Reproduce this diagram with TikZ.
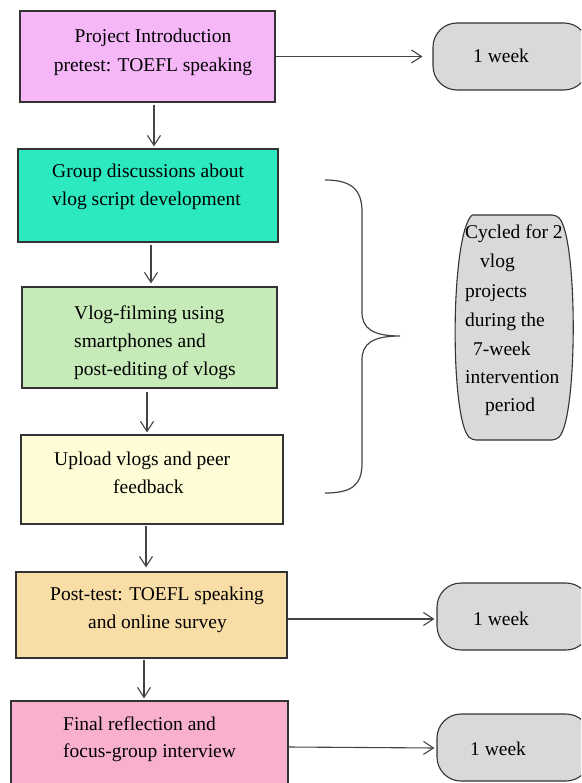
\documentclass[tikz,border=0pt]{standalone}
\usepackage{fontspec}
\setmainfont{Liberation Serif}
\usetikzlibrary{arrows.meta}
\definecolor{bordc}{HTML}{333333}
\definecolor{arrc}{HTML}{444444}
\definecolor{cA}{HTML}{F6B7F9}
\definecolor{cB}{HTML}{2CE9BF}
\definecolor{cC}{HTML}{C6EBB9}
\definecolor{cD}{HTML}{FDFCD6}
\definecolor{cE}{HTML}{F9DDA7}
\definecolor{cF}{HTML}{F9B0CF}
\definecolor{cG}{HTML}{D9D9D9}
\begin{document}
\begin{tikzpicture}[x=1pt,y=-1pt,
  box/.style={draw=bordc, line width=1.2pt, rectangle, inner sep=0pt},
  pill/.style={draw=bordc, line width=1.1pt, rectangle, rounded corners=24pt, fill=cG, inner sep=0pt},
  txt/.style={font=\fontsize{19.5}{29}\selectfont, inner sep=0pt, text=black},
  arr/.style={draw=arrc, line width=1.1pt, -{Straight Barb[length=10pt,width=13pt,line width=1.1pt]}},
  brace/.style={draw=arrc, line width=1.2pt}
]
\useasboundingbox (0,0) rectangle (581,783);
\clip (0,0) rectangle (581,783);
\fill[white] (0,0) rectangle (581,783);

% boxes
\node[box, fill=cA, minimum width=255pt, minimum height=91pt] (B1) at (147.5,56.5) {};
\node[box, fill=cB, minimum width=260pt, minimum height=93pt] (B2) at (148,195.5) {};
\node[box, fill=cC, minimum width=255pt, minimum height=101pt] (B3) at (149.5,337.5) {};
\node[box, fill=cD, minimum width=262pt, minimum height=89pt] (B4) at (152,479.5) {};
\node[box, fill=cE, minimum width=271pt, minimum height=86pt] (B5) at (151.5,615) {};
\node[box, fill=cF, minimum width=277pt, minimum height=89pt] (B6) at (149.5,745.5) {};

% pills
\node[pill, minimum width=155pt, minimum height=67pt] (P1) at (510.5,56.5) {};
\node[pill, minimum width=153pt, minimum height=67pt] (P2) at (513.5,616.5) {};
\node[pill, minimum width=153pt, minimum height=67pt] (P3) at (513.5,747.5) {};

% barrel
\draw[draw=bordc, line width=1.1pt, fill=cG, rounded corners=4pt]
  (472,215) -- (556,215) .. controls (578,236) and (578,419) .. (556,440)
  -- (472,440) .. controls (450,419) and (450,236) .. (472,215);
\coordinate (BR) at (514,327.5);

% texts
\node[txt, anchor=base] (t1a) at (153,42.7) {Project Introduction};
\node[txt, anchor=base] (t1b) at (153,71.7) {pretest: TOEFL speaking};
\node[txt, anchor=base west] (t2a) at (52,178) {Group discussions about};
\node[txt, anchor=base west] (t2b) at (52,205.5) {vlog script development};
\node[txt, anchor=base west] (t3a) at (74,319.5) {Vlog-filming using};
\node[txt, anchor=base west] (t3b) at (74,347.5) {smartphones and};
\node[txt, anchor=base west] (t3c) at (74,375.5) {post-editing of vlogs};
\node[txt, anchor=base west] (t4a) at (54,465) {Upload vlogs and peer};
\node[txt, anchor=base west] (t4b) at (113,493) {feedback};
\node[txt, anchor=base west] (t5a) at (50,600) {Post-test: TOEFL speaking};
\node[txt, anchor=base west] (t5b) at (88,628) {and online survey};
\node[txt, anchor=base west] (t6a) at (63,730) {Final reflection and};
\node[txt, anchor=base west] (t6b) at (63,757) {focus-group interview};
\node[txt, anchor=base west] (tp1) at (473,63) {1 week};
\node[txt, anchor=base west] (tp2) at (473,625) {1 week};
\node[txt, anchor=base west] (tp3) at (470,755) {1 week};
\node[txt, anchor=base west] (c1) at (465,239) {Cycled for 2};
\node[txt, anchor=base west] (c2) at (480,268) {vlog};
\node[txt, anchor=base west] (c3) at (465,297) {projects};
\node[txt, anchor=base west] (c4) at (465,326) {during the};
\node[txt, anchor=base west] (c5) at (473,355) {7-week};
\node[txt, anchor=base west] (c6) at (465,383) {intervention};
\node[txt, anchor=base west] (c7) at (485,411) {period};

% vertical arrows
\draw[arr, shorten <=2pt, shorten >=2pt] ([xshift=6.5pt]B1.south) -- ([xshift=6pt]B2.north);
\draw[arr, shorten <=2pt, shorten >=3pt] ([xshift=3pt]B2.south) -- ([xshift=1.5pt]B3.north);
\draw[arr, shorten <=3pt, shorten >=2pt] ([xshift=-2.5pt]B3.south) -- ([xshift=-5pt]B4.north);
\draw[arr, shorten <=1pt, shorten >=4pt] ([xshift=-6pt]B4.south) -- ([xshift=-5.5pt]B5.north);
\draw[arr, shorten <=1pt, shorten >=2pt] ([xshift=-7.5pt]B5.south) -- ([xshift=-5.5pt]B6.north);

% horizontal arrows
\draw[arr, shorten >=10pt] (B1.east) -- (P1.west);
\draw[arr, shorten >=2pt] ([yshift=-4pt]B5.east) -- ([yshift=-2.5pt]P2.west);
\draw[arr, shorten >=2pt] ([yshift=-1.5pt]B6.east) -- ([yshift=-0.5pt]P3.west);

% brace
\coordinate (brT) at (325,180);
\coordinate (brM) at (400,336);
\coordinate (brB) at (325,493);
\draw[brace] (brT) .. controls (352,180) and (362,190) .. (362,212)
  -- (362,312) .. controls (362,328) and (372,336) .. (brM)
  .. controls (372,336) and (362,344) .. (362,360)
  -- (362,463) .. controls (362,485) and (352,493) .. (brB);
\end{tikzpicture}
\end{document}
